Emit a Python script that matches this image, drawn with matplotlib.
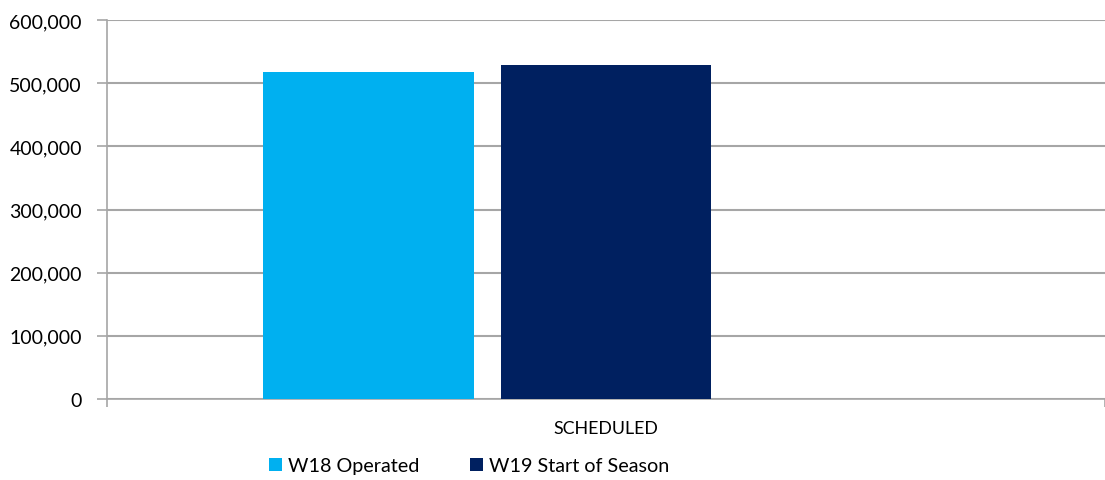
import matplotlib
matplotlib.use('Agg')
import matplotlib.pyplot as plt
from matplotlib.ticker import FuncFormatter
import numpy as np

categories = ["SCHEDULED"]
series_names = ["W18 Operated", "W19 Start of Season"]
w18_operated = [517400]
w19_start = [528500]
colors = ["#00B0F0", "#002060"]

plt.rcParams['font.family'] = ['Lato', 'DejaVu Sans']

fig = plt.figure(figsize=(11.05, 4.81), dpi=100)
ax = fig.add_axes([107 / 1105, 1 - 400 / 481, 1 - 107 / 1105, (400 - 21) / 481])

x = np.arange(len(categories))
width = 0.2114
step = 0.2375  # three slots per category, third series is empty
b1 = ax.bar(x - step, w18_operated, width, color=colors[0], label=series_names[0], zorder=3)
b2 = ax.bar(x, w19_start, width, color=colors[1], label=series_names[1], zorder=3)

ax.set_xlim(-0.5, 0.5)
ax.set_ylim(0, 600000)
ax.set_yticks(np.arange(0, 600001, 100000))
ax.yaxis.set_major_formatter(FuncFormatter(lambda v, p: f"{int(v):,}"))
ax.yaxis.grid(True, color='#a6a6a6', linewidth=1.5, zorder=0)

ax.set_xticks([-0.5, 0.5])
ax.set_xticklabels([])
ax.set_xticks(x, minor=True)
ax.set_xticklabels(categories, minor=True)
ax.tick_params(axis='x', which='minor', length=0, pad=15, labelsize=12.8)
ax.tick_params(axis='x', which='major', length=6, color='#a6a6a6', width=1.2)
ax.tick_params(axis='y', length=7, color='#a6a6a6', width=1.2, labelsize=14, pad=11)

for s in ['top', 'right']:
    ax.spines[s].set_visible(False)
for s in ['left', 'bottom']:
    ax.spines[s].set_color('#a6a6a6')
    ax.spines[s].set_linewidth(1.2)

fig.legend(handles=[b1, b2], labels=series_names, loc='center', bbox_to_anchor=(469 / 1105, 1 - 467 / 481),
           ncol=2, frameon=False, fontsize=14.2, handlelength=0.65, handleheight=0.65,
           handletextpad=0.3, columnspacing=2.6)

fig.savefig('out.png', dpi=100)
